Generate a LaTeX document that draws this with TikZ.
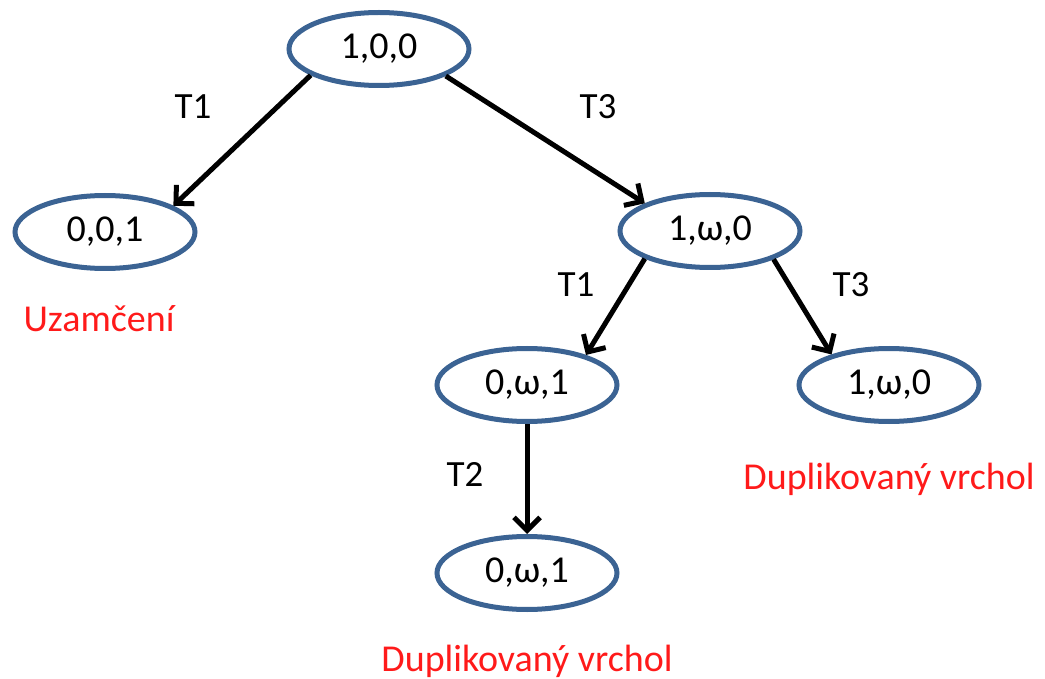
\documentclass[tikz,border=0pt]{standalone}
\usepackage{fontspec}
\setmainfont{Carlito}
\usetikzlibrary{shapes.geometric,arrows.meta}
\definecolor{ellblue}{HTML}{3B6393}
\definecolor{lblred}{HTML}{FF1A1A}
\begin{document}
\begin{tikzpicture}[x=1pt,y=-1pt,
  state/.style={ellipse,draw=ellblue,line width=5pt,minimum width=180pt,minimum height=73pt,inner sep=0pt,font=\fontsize{38}{42}\selectfont},
  trans/.style={-{Straight Barb[length=13pt,width=26pt,line width=5pt]},line width=5pt,black},
  tlabel/.style={font=\fontsize{37}{40}\selectfont},
  rlabel/.style={font=\fontsize{38}{42}\selectfont,text=lblred}]
\useasboundingbox (0,0) rectangle (1045,679);
\node[state] (root) at (379,49) {1,0,0};
\node[state] (a) at (105,232) {0,0,1};
\node[state] (b) at (710,231) {1,ω,0};
\node[state] (c) at (527,385) {0,ω,1};
\node[state] (d) at (889,385) {1,ω,0};
\node[state] (e) at (527,573) {0,ω,1};
\draw[trans] (root.201) -- (a.21);
\draw[trans] (root.338) -- (b.157);
\draw[trans] (b.203) -- (c.27);
\draw[trans] (b.336) -- (d.152);
\draw[trans] (c.south) -- (e.north);
\node[tlabel] (l1) at (193,107) {T1};
\node[tlabel] (l2) at (598,107) {T3};
\node[tlabel] (l3) at (576,285) {T1};
\node[tlabel] (l4) at (851,285) {T3};
\node[tlabel] (l5) at (465,474) {T2};
\node[rlabel] (r1) at (99,319) {Uzamčení};
\node[rlabel] (r2) at (889,479) {Duplikovaný vrchol};
\node[rlabel] (r3) at (527,661) {Duplikovaný vrchol};
\end{tikzpicture}
\end{document}
